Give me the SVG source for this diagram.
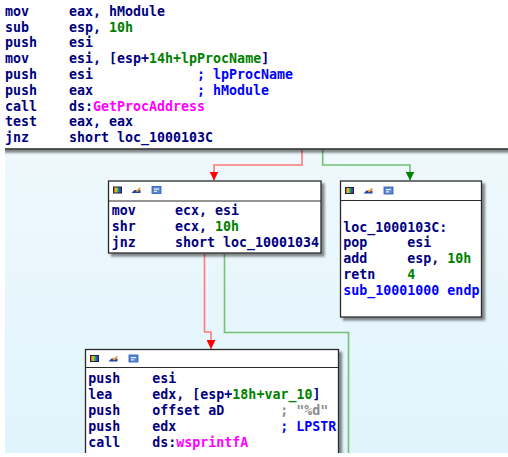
<svg xmlns="http://www.w3.org/2000/svg" width="508" height="457" viewBox="0 0 508 457">
<defs>
<style>
.t{font-family:"DejaVu Sans Mono","Liberation Mono",monospace;font-size:13.3px;font-weight:bold;fill:#000080}
.g{fill:#008000}.b{fill:#0000ff}.m{fill:#ff00ff}.gr{fill:#8a8a8a}
.node{fill:#fff;stroke:#2a2a2a;stroke-width:1.3;filter:url(#sh)}
.hd{stroke:#2a2a2a;stroke-width:1.2}
.er{fill:none;stroke:#ff7a7a;stroke-width:1.6}
.eg{fill:none;stroke:#72c272;stroke-width:1.6}
</style>
<linearGradient id="bg" x1="0" y1="0" x2="0" y2="1">
<stop offset="0" stop-color="#f6fbfd"/>
<stop offset="1" stop-color="#e0f4fc"/>
</linearGradient>
<linearGradient id="rb" x1="0" y1="0" x2="1" y2="0">
<stop offset="0" stop-color="#e02020"/>
<stop offset="0.3" stop-color="#f0d020"/>
<stop offset="0.55" stop-color="#20c040"/>
<stop offset="0.8" stop-color="#2040e0"/>
<stop offset="1" stop-color="#a020c0"/>
</linearGradient>
<filter id="sh" x="-10%" y="-10%" width="130%" height="130%">
<feDropShadow dx="3" dy="3" stdDeviation="1.2" flood-color="#000" flood-opacity="0.45"/>
</filter>
<marker id="ar" viewBox="0 0 10 10" refX="10" refY="5" markerWidth="9" markerHeight="9" markerUnits="userSpaceOnUse" orient="auto">
<path d="M0,0 L10,5 L0,10 z" fill="#ff0000"/>
</marker>
<marker id="ag" viewBox="0 0 10 10" refX="10" refY="5" markerWidth="9" markerHeight="9" markerUnits="userSpaceOnUse" orient="auto">
<path d="M0,0 L10,5 L0,10 z" fill="#008000"/>
</marker>
<symbol id="icons" overflow="visible">
<rect x="5" y="6" width="8" height="6" fill="url(#rb)" stroke="#202040" stroke-width="1"/>
<path d="M23,12 L32,12 L32,9 L26,9 Z" fill="#2040a0"/>
<path d="M27,10 L31,6.5 L32.5,7.5 L29,11 Z" fill="#f0a020"/>
<rect x="43.5" y="5.5" width="9" height="7" fill="#5a88d8" stroke="#2a5ab0" stroke-width="0.8"/>
<rect x="45.5" y="7.5" width="5" height="1.2" fill="#e8f0ff"/>
<rect x="45.5" y="9.8" width="3" height="1.2" fill="#e8f0ff"/>
</symbol>
</defs>

<rect x="0" y="0" width="508" height="457" fill="#fff"/>
<rect x="5" y="0" width="503" height="453" fill="url(#bg)"/>

<g id="connectors">
<path class="er" d="M302,150 V165 H214 V180.5" marker-end="url(#ar)"/>
<path class="eg" d="M322.7,150 V165 H410 V180.5" marker-end="url(#ag)"/>
<path class="er" d="M204.5,254 V332 H211 V349" marker-end="url(#ar)"/>
<path class="eg" d="M224.5,254 V332.5 H348.5 V456"/>
</g>

<g id="node-top">
<rect x="-5" y="-5" width="520" height="154" fill="#fff" stroke="#333" stroke-width="1.6" filter="url(#sh)"/>
<g class="t">
<text x="5" y="15.8">mov</text><text x="69" y="15.8">eax, hModule</text>
<text x="5" y="31.6">sub</text><text x="69" y="31.6">esp, <tspan class="g">10h</tspan></text>
<text x="5" y="47.4">push</text><text x="69" y="47.4">esi</text>
<text x="5" y="63.2">mov</text><text x="69" y="63.2">esi, [esp+<tspan class="g">14h+lpProcName</tspan>]</text>
<text x="5" y="79">push</text><text x="69" y="79">esi</text><text x="197" y="79" class="b">; lpProcName</text>
<text x="5" y="94.8">push</text><text x="69" y="94.8">eax</text><text x="197" y="94.8" class="b">; hModule</text>
<text x="5" y="110.6">call</text><text x="69" y="110.6">ds:<tspan class="m">GetProcAddress</tspan></text>
<text x="5" y="126.4">test</text><text x="69" y="126.4">eax, eax</text>
<text x="5" y="142.2">jnz</text><text x="69" y="142.2">short loc_1000103C</text>
</g>
</g>

<g id="node-shr">
<rect class="node" x="108.5" y="181" width="212.5" height="72"/>
<line class="hd" x1="108.5" y1="201" x2="321" y2="201"/>
<use href="#icons" x="108.5" y="181"/>
<g class="t">
<text x="111.7" y="215.2">mov</text><text x="175" y="215.2">ecx, esi</text>
<text x="111.7" y="231">shr</text><text x="175" y="231">ecx, <tspan class="g">10h</tspan></text>
<text x="111.7" y="246.8">jnz</text><text x="175" y="246.8">short loc_10001034</text>
</g>
</g>

<g id="node-ret">
<rect class="node" x="340.5" y="181" width="141" height="136"/>
<line class="hd" x1="340.5" y1="200.5" x2="481.5" y2="200.5"/>
<use href="#icons" x="340.5" y="181.5"/>
<g class="t">
<text x="343.3" y="231.5">loc_1000103C:</text>
<text x="343.3" y="247.3">pop</text><text x="407.3" y="247.3">esi</text>
<text x="343.3" y="263.1">add</text><text x="407.3" y="263.1">esp, <tspan class="g">10h</tspan></text>
<text x="343.3" y="278.9">retn</text><text x="407.3" y="278.9" class="g">4</text>
<text x="343.3" y="294.7" class="b">sub_10001000 endp</text>
</g>
</g>

<g id="node-wsprintf">
<rect class="node" x="85.5" y="349.5" width="253" height="130"/>
<line class="hd" x1="85.5" y1="367.5" x2="338.5" y2="367.5"/>
<use href="#icons" x="85.5" y="349.5"/>
<g class="t">
<text x="88.3" y="383.4">push</text><text x="152.3" y="383.4">esi</text>
<text x="88.3" y="399.3">lea</text><text x="152.3" y="399.3">edx, [esp+<tspan class="g">18h+var_10</tspan>]</text>
<text x="88.3" y="415.2">push</text><text x="152.3" y="415.2">offset aD</text><text x="280.3" y="415.2" class="gr">; "%d"</text>
<text x="88.3" y="431.1">push</text><text x="152.3" y="431.1">edx</text><text x="280.3" y="431.1" class="b">; LPSTR</text>
<text x="88.3" y="447">call</text><text x="152.3" y="447">ds:<tspan class="m">wsprintfA</tspan></text>
</g>
</g>

<rect x="0" y="453" width="508" height="4" fill="#fff"/>
<rect x="0" y="0" width="5" height="457" fill="#fff"/>
</svg>
